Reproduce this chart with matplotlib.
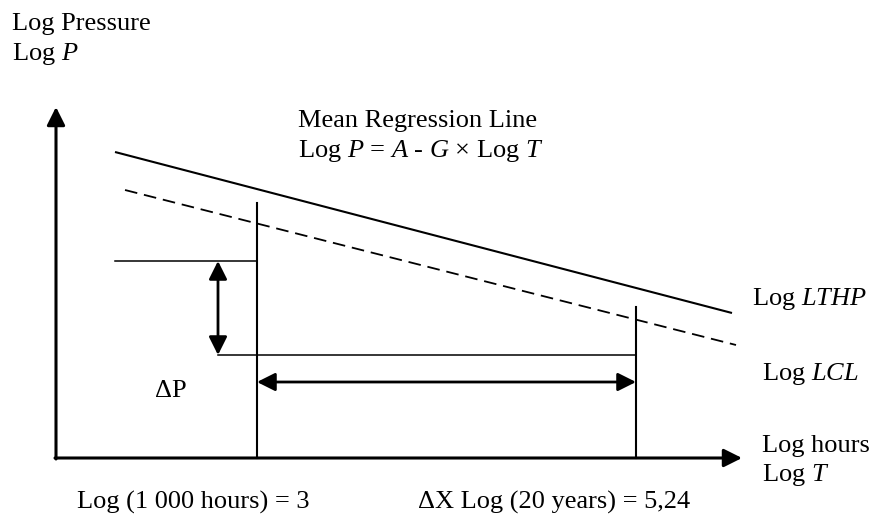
import matplotlib.pyplot as plt

plt.rcParams['font.family'] = ['Liberation Serif', 'DejaVu Serif']
plt.rcParams['mathtext.fontset'] = 'custom'
plt.rcParams['mathtext.rm'] = 'Liberation Serif'
plt.rcParams['mathtext.it'] = 'Liberation Serif:italic'

# diagram units (schematic, not to scale), y pointing up
axis_origin = (56, 59)
axis_x_end = 742
axis_y_end = 410

mean_line_x = [115, 732]
mean_line_y = [365, 204]
lcl_line_x = [125, 736]
lcl_line_y = [327, 172]

t_marks_x = [257, 636]       # Log(1 000 h) = 3, Log(20 years) = 5,24
t_marks_top = [314, 210]

upper_level_x = [115, 257]
upper_level_y = 256
lower_level_x = [218, 636]
lower_level_y = 162

dp_arrow_x = 218
dx_arrow_y = 135

FS = 19

fig = plt.figure(figsize=(8.71, 5.17), dpi=100)
ax = fig.add_axes([0, 0, 1, 1])
ax.set_xlim(0, 871)
ax.set_ylim(0, 517)
ax.axis('off')

head = dict(arrowstyle='-|>,head_length=1.0,head_width=0.5', mutation_scale=11,
            color='black', lw=2.2, shrinkA=0, shrinkB=0)
dbl = dict(arrowstyle='<|-|>,head_length=1.0,head_width=0.5', mutation_scale=11,
           color='black', lw=2.0, shrinkA=0, shrinkB=0)

# axes
ox, oy = axis_origin
ax.annotate('', xy=(ox, axis_y_end), xytext=(ox, oy - 1), arrowprops=head)
ax.annotate('', xy=(axis_x_end, oy), xytext=(ox - 1, oy), arrowprops=head)

# regression lines
ax.plot(mean_line_x, mean_line_y, color='black', lw=1.5, solid_capstyle='butt')
ax.plot(lcl_line_x, lcl_line_y, color='black', lw=1.3, dashes=(7, 3.8))

# vertical markers
for x, top in zip(t_marks_x, t_marks_top):
    ax.plot([x, x], [oy, top], color='black', lw=1.5)

# horizontal levels
ax.plot(upper_level_x, [upper_level_y] * 2, color='black', lw=1.1)
ax.plot(lower_level_x, [lower_level_y] * 2, color='black', lw=1.1)

# delta arrows
ax.annotate('', xy=(dp_arrow_x, lower_level_y), xytext=(dp_arrow_x, upper_level_y), arrowprops=dbl)
ax.annotate('', xy=(t_marks_x[1], dx_arrow_y), xytext=(t_marks_x[0], dx_arrow_y), arrowprops=dbl)

# texts
txt = dict(fontsize=FS, ha='left', va='baseline', color='black')
ax.text(12, 487, 'Log Pressure', **txt)
ax.text(12, 457, 'Log $P$', **txt)
ax.text(298, 390, 'Mean Regression Line', **txt)
ax.text(298, 360, 'Log $P$ = $A$ - $G$ × Log $T$', **txt)
ax.text(752, 212, 'Log $LTHP$', **txt)
ax.text(762, 137, 'Log $LCL$', **txt)
ax.text(762, 65, 'Log hours', **txt)
ax.text(762, 36, 'Log $T$', **txt)
ax.text(155, 120, 'ΔP', **txt)
ax.text(77, 8, 'Log (1 000 hours) = 3', **txt)
ax.text(418, 8, 'ΔX Log (20 years) = 5,24', **txt)

fig.savefig('out.png', dpi=100)
